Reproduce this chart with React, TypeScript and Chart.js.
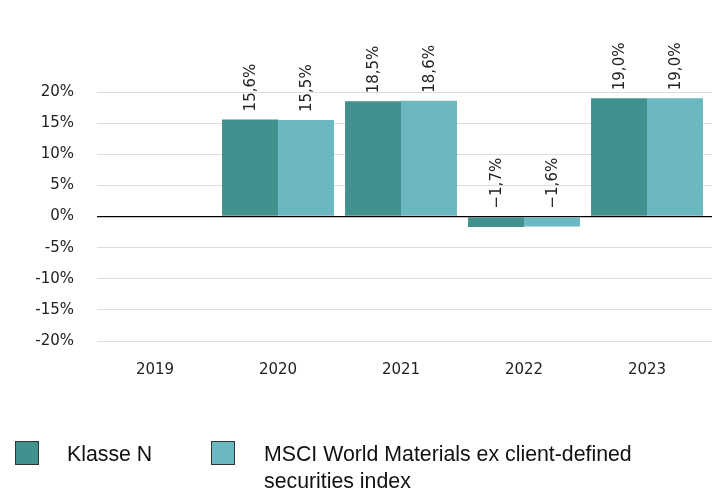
import React, { useEffect, useRef } from "react";
import { Chart, registerables } from "chart.js";

Chart.register(...registerables);

const categories = ["2019", "2020", "2021", "2022", "2023"];
const seriesNames = ["Klasse N", "MSCI World Materials ex client-defined securities index"];
const klasseN = [null, 15.6, 18.5, -1.7, 19.0];
const msciIndex = [null, 15.5, 18.6, -1.6, 19.0];
const colors = ["#41928f", "#6bb8c2"];
const yMin = -20;
const yMax = 20;
const yStep = 5;

const fmt = (v: number) => (v < 0 ? "\u2212" : "") + Math.abs(v).toFixed(1).replace(".", ",") + "%";

const shiftX = {
  id: "shiftX",
  afterLayout(chart: any) {
    const s = chart.scales.x;
    s._startPixel -= 3.5;
    s._endPixel -= 3.5;
  },
};

const valueLabels = {
  id: "valueLabels",
  afterDatasetsDraw(chart: any) {
    const ctx = chart.ctx;
    const zeroY = chart.scales.y.getPixelForValue(0);
    chart.data.datasets.forEach((ds: any, di: number) => {
      const meta = chart.getDatasetMeta(di);
      meta.data.forEach((bar: any, i: number) => {
        const v = ds.data[i];
        if (v === null || v === undefined) return;
        const base = v >= 0 ? bar.y : zeroY;
        ctx.save();
        ctx.translate(bar.x, base - 8);
        ctx.rotate(-Math.PI / 2);
        ctx.font = "15px 'DejaVu Sans'";
        ctx.fillStyle = "#222";
        ctx.textAlign = "left";
        ctx.textBaseline = "middle";
        ctx.fillText(fmt(v), 0, 1);
        ctx.restore();
      });
    });
  },
};

export default function App() {
  const ref = useRef<HTMLCanvasElement>(null);
  useEffect(() => {
    const chart = new Chart(ref.current!, {
      type: "bar",
      data: {
        labels: categories,
        datasets: [
          { label: seriesNames[0], data: klasseN as any, backgroundColor: colors[0] },
          { label: seriesNames[1], data: msciIndex as any, backgroundColor: colors[1] },
        ],
      },
      options: {
        responsive: false,
        animation: false,
        devicePixelRatio: 1,
        layout: { padding: { top: 92, right: 0, bottom: 3, left: 0 } },
        datasets: { bar: { categoryPercentage: 0.91, barPercentage: 1 } },
        plugins: { legend: { display: false }, tooltip: { enabled: false } },
        scales: {
          x: {
            grid: { display: false, drawTicks: false },
            border: { display: false },
            ticks: { padding: 20, color: "#222", font: { family: "DejaVu Sans", size: 15 } },
          },
          y: {
            min: yMin,
            max: yMax,
            afterFit: (s: any) => {
              s.width = 97;
            },
            grid: {
              drawTicks: false,
              color: (c: any) => (c.tick && c.tick.value === 0 ? "#000" : "#dddddd"),
              lineWidth: (c: any) => (c.tick && c.tick.value === 0 ? 1.3 : 1),
            },
            border: { display: false },
            ticks: {
              stepSize: yStep,
              padding: 23,
              color: "#222",
              font: { family: "DejaVu Sans", size: 15 },
              callback: (v: any) => v + "%",
            },
          },
        },
      },
      plugins: [shiftX, valueLabels],
    });
    return () => chart.destroy();
  }, []);

  const sq = (c: string): React.CSSProperties => ({
    position: "absolute",
    width: 22,
    height: 22,
    background: c,
    border: "1px solid #333",
  });
  const txt: React.CSSProperties = {
    position: "absolute",
    fontFamily: "'Liberation Sans', Arial, sans-serif",
    fontSize: 21.3,
    lineHeight: "27px",
    color: "#111",
  };

  return (
    <div style={{ position: "fixed", left: 0, top: 0, width: 712, height: 491, background: "#fff" }}>
      <canvas ref={ref} width={712} height={402} style={{ position: "absolute", left: 0, top: 0 }} />
      <div style={{ ...sq(colors[0]), left: 15, top: 441 }} />
      <div style={{ ...txt, left: 67, top: 441 }}>{seriesNames[0]}</div>
      <div style={{ ...sq(colors[1]), left: 211, top: 441 }} />
      <div style={{ ...txt, left: 264, top: 441, width: 430 }}>
        MSCI World Materials ex client-defined
        <br />
        securities index
      </div>
    </div>
  );
}
